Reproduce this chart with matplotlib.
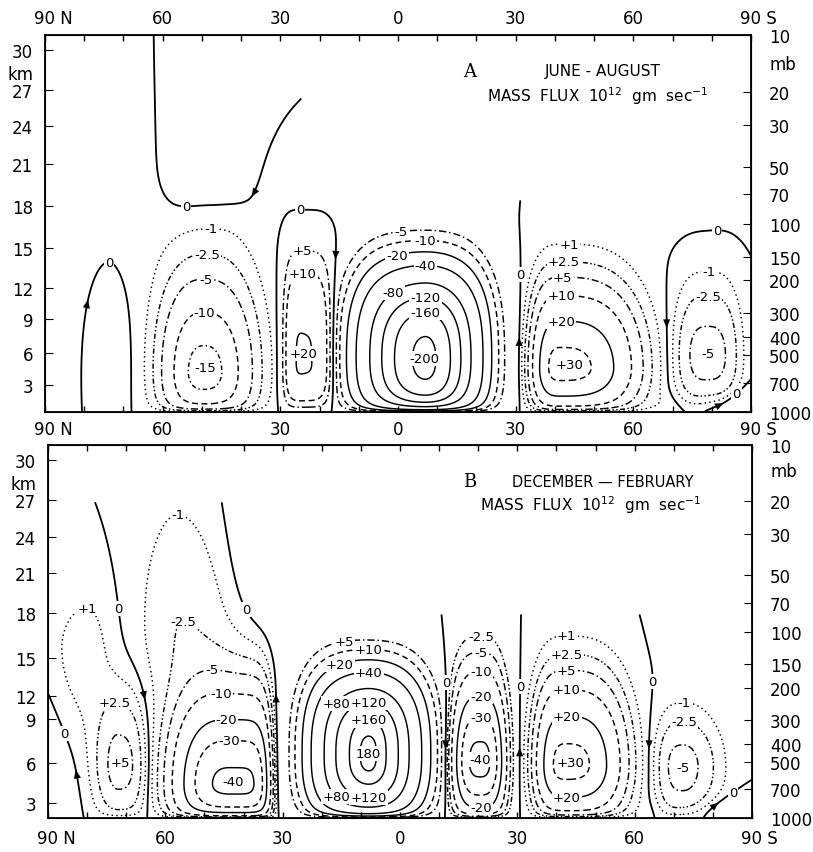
"""
Mean meridional mass flux cross-sections (JJA and DJF), redrawn from a scanned figure.
"""

import numpy as np
import matplotlib
import matplotlib.pyplot as plt
from matplotlib.ticker import FixedLocator, NullLocator

matplotlib.use('Agg')
plt.rcParams['font.family'] = 'DejaVu Sans'

# Axes
LAT_TICKS = [90, 60, 30, 0, -30, -60, -90]
LAT_LABELS = ["", "60", "30", "0", "30", "60", ""]
MB_TICKS = [10, 20, 30, 50, 70, 100, 150, 200, 300, 400, 500, 700, 1000]
KM_LABELS = [3, 6, 9, 12, 15, 18, 21, 24, 27, 30]
KM_P_JJA = [720, 488, 323, 219, 135, 81, 48.6, 30.5, 19.5, 12.0]
KM_P_DJF = [832, 509, 293, 221, 138, 80, 48.7, 31.0, 19.6, 12.0]

# Circulation cells.
# columns: lat, p (mb), peak (1e12 gm/s), r_north, r_south (deg),
#          r_up, r_down (decades of p), n_north, n_south, n_vertical
JJA_HADLEY = [-6, 500, -80, 16, 15, 0.42, 0.30, 3.5, 3.5, 2.5]
JJA_HADLEY_CORE = [-7, 600, -130, 12, 10, 0.45, 0.25, 2, 2, 3]
JJA_SUBTROP = [24, 535, 20.6, 5.0, 7.0, 0.52, 0.25, 4, 4, 3]
JJA_NH_FERREL = [49.5, 617, -16.5, 10, 11.5, 0.44, 0.30, 2.5, 2.5, 2]
JJA_NH_POLAR = [74.5, 500, 1.1, 5, 5, 0.5, 0.4, 2, 2, 2]
JJA_NH_POLE = [95, 600, -1.2, 10, 10, 0.6, 0.5, 2, 2, 2]
JJA_NH_ALOFT = [45, 120, -0.7, 20, 12, 0.22, 0.5, 2, 2, 2]
JJA_NH_STRAT = [48, 10, 2.0, 11.5, 16, 1.0, 0.85, 4, 2, 2]
JJA_POLE_STRAT = [85, 20, -2.0, 20, 15, 1.0, 0.8, 2, 2, 2]
JJA_TROP_ALOFT = [26, 60, -1.0, 10, 30, 0.35, 0.2, 2, 2, 2]
JJA_SH_FERREL = [-41.5, 583, 33, 6.8, 17, 0.35, 0.22, 3, 3, 2]
JJA_SH_POLAR = [-79, 500, -6.2, 7.7, 7.5, 0.33, 0.30, 3, 3, 2]
JJA_SH_ALOFT = [-65, 50, 0.5, 20, 30, 1.0, 0.3, 2, 2, 2]
JJA_SH_SURF = [-100, 1000, 5.7, 23, 23, 0.1, 0.3, 2, 2, 2]

JJA_CELLS = [("hadley", JJA_HADLEY), ("hadley", JJA_HADLEY_CORE),
             ("subtrop", JJA_SUBTROP),
             ("nhferrel", JJA_NH_FERREL), ("", JJA_NH_POLAR), ("", JJA_NH_POLE),
             ("", JJA_NH_ALOFT), ("", JJA_NH_STRAT), ("", JJA_POLE_STRAT),
             ("", JJA_TROP_ALOFT), ("shferrel", JJA_SH_FERREL),
             ("shpolar", JJA_SH_POLAR), ("", JJA_SH_ALOFT), ("", JJA_SH_SURF)]
JJA_LEVELS = {
    "hadley": [-5, -10, -20, -40, -80, -120, -160, -200],
    "subtrop": [5, 10, 20],
    "nhferrel": [-1, -2.5, -5, -10, -15],
    "shferrel": [1, 2.5, 5, 10, 20, 30],
    "shpolar": [-1, -2.5, -5],
}
JJA_BOTTOM_LABELS = {}
JJA_TOP_LAT = [-90, 19, 23, 27, 90]
JJA_TOP_P = [75, 75, 28, 10, 10]

DJF_HADLEY = [7.5, 454, 80, 15, 13, 0.39, 0.32, 3.5, 3, 2.5]
DJF_HADLEY_CORE = [8, 470, 105, 10, 9, 0.38, 0.30, 2, 2, 3]
DJF_TROUGH = [-20.5, 500, -43, 6.7, 6.0, 0.40, 0.30, 3, 3, 2]
DJF_NH_FERREL = [43, 660, -42, 13.5, 9.4, 0.40, 0.25, 3, 6, 2]
DJF_NH_FERREL_ALOFT = [56, 90, -2.4, 10, 14, 0.65, 0.45, 2, 2, 2]
DJF_NH_POLAR = [72, 520, 6.2, 5.5, 6.2, 0.34, 0.28, 2, 3, 2]
DJF_NH_POLAR_ALOFT = [80, 130, 1.6, 10, 6, 0.35, 0.45, 2, 2, 2]
DJF_NH_POLE = [97, 990, -5, 10, 9, 0.5, 0.3, 2, 2, 2]
DJF_HADLEY_ALOFT = [28, 35, 2.0, 16, 15, 0.6, 0.5, 2, 2, 2]
DJF_SH_FERREL = [-42.5, 520, 33, 7.2, 13, 0.37, 0.25, 3, 3, 2]
DJF_SH_POLAR = [-72.5, 530, -6.2, 6.5, 8, 0.25, 0.3, 3, 2, 2]
DJF_SH_ALOFT = [-80, 100, -0.5, 10, 20, 0.5, 0.3, 2, 2, 2]
DJF_SH_SURF = [-100, 1000, 4.0, 25, 25, 0.1, 0.3, 2, 2, 2]

DJF_CELLS = [("hadley", DJF_HADLEY), ("hadley", DJF_HADLEY_CORE),
             ("trough", DJF_TROUGH),
             ("nhferrel", DJF_NH_FERREL), ("nhferrel", DJF_NH_FERREL_ALOFT),
             ("nhpolar", DJF_NH_POLAR), ("nhpolar", DJF_NH_POLAR_ALOFT),
             ("", DJF_NH_POLE), ("", DJF_HADLEY_ALOFT),
             ("shferrel", DJF_SH_FERREL), ("shpolar", DJF_SH_POLAR),
             ("", DJF_SH_ALOFT), ("", DJF_SH_SURF)]
DJF_LEVELS = {
    "hadley": [5, 10, 20, 40, 80, 120, 160, 180],
    "trough": [-2.5, -5, -10, -20, -30, -40],
    "nhferrel": [-1, -2.5, -5, -10, -20, -30, -40],
    "nhpolar": [1, 2.5, 5],
    "shferrel": [1, 2.5, 5, 10, 20, 30],
    "shpolar": [-1, -2.5, -5],
}
DJF_BOTTOM_LABELS = {"hadley": [80, 120], "trough": [-20], "shferrel": [20]}
DJF_TOP_LAT = [-90, 20, 24, 30, 90]
DJF_TOP_P = [80, 80, 27, 20, 20]

UNSIGNED = {180}
SURFACE_DEPTH = 0.025
LABEL_SIZE = 9.5


def cell_field(lat, z, cell):
    """One circulation cell: a skewed super-gaussian in (lat, log p)."""
    lat0, p0, peak, rn, rs, rup, rdn, nn, ns, nz = cell
    dx = lat - lat0
    dz = z - np.log10(1000.0 / p0)
    ux = np.where(dx > 0, (np.abs(dx) / rn) ** nn, (np.abs(dx) / rs) ** ns)
    uz = np.where(dz > 0, (np.abs(dz) / rup) ** nz, (np.abs(dz) / rdn) ** nz)
    return peak * np.exp(-(ux + uz))


def line_style(v):
    a = abs(v)
    if a == 1:
        return (0, (1, 2.2))
    if a == 2.5:
        return (0, (1, 1.6, 1, 1.6, 3.5, 1.6))
    if a == 5:
        return (0, (5, 2, 1, 2))
    if a in (10, 30):
        return (0, (4, 2.5))
    if a == 15:
        return (0, (3, 2, 1, 2))
    return '-'


def fmt(v):
    if v in UNSIGNED:
        return f"{v:g}"
    return f"{v:+g}"


def box(ax, x, y, s):
    px, py = ax.transData.transform((x, y))
    w = 8.4 * len(s) + 3
    return (px - w / 2, py - 7.5, px + w / 2, py + 7.5)


def free(b, placed):
    return all(b[2] < q[0] or b[0] > q[2] or b[3] < q[1] or b[1] > q[3] for q in placed)


def put(ax, x, y, s, placed):
    ax.text(x, y, s, ha='center', va='center', fontsize=LABEL_SIZE, zorder=5,
            bbox=dict(boxstyle='square,pad=0.08', fc='white', ec='none'))
    placed.append(box(ax, x, y, s))


def put_along(ax, seg, order, s, placed):
    """Label at the first vertex (in the given order) that does not hit another label."""
    for i in order[:max(1, int(0.45 * len(order)))]:
        if free(box(ax, seg[i, 0], seg[i, 1], s), placed):
            put(ax, seg[i, 0], seg[i, 1], s, placed)
            return
    put(ax, seg[order[0], 0], seg[order[0], 1], s, placed)


def label_cells(ax, cs, bottom, placed):
    pairs = sorted(zip(cs.levels, cs.allsegs), key=lambda t: -abs(t[0]))
    for k, (v, segs) in enumerate(pairs):
        segs = [s for s in segs if len(s) > 4]
        if not segs:
            continue
        seg = max(segs, key=len)
        if k == 0:
            x = seg[:, 0].mean()
            y = np.exp(np.log(seg[:, 1]).mean())
            put(ax, x, y, fmt(v), placed)
        else:
            put_along(ax, seg, np.argsort(seg[:, 1]), fmt(v), placed)
        if v in bottom:
            put_along(ax, seg, np.argsort(-seg[:, 1]), fmt(v), placed)


def label_zero(ax, cs0, placed):
    for seg in cs0.allsegs[0]:
        if len(seg) < 20:
            continue
        h = -np.log10(seg[:, 1])
        n = len(seg)
        top_i, low_i = h.argmax(), h.argmin()
        if 0 < top_i < n - 1 and h[top_i] > max(h[0], h[-1]) + 0.1:
            i = top_i
        elif 0 < low_i < n - 1 and h[low_i] < min(h[0], h[-1]) - 0.1:
            i = low_i
        else:
            i = int(0.35 * (n - 1)) if h[0] > h[-1] else int(0.65 * (n - 1))
        put(ax, seg[i, 0], seg[i, 1], "0", placed)
        # small arrowhead further along the line
        j = int(0.66 * (n - 1)) if i < n / 2 else int(0.34 * (n - 1))
        j = min(max(j, 2), n - 3)
        ax.annotate('', xy=tuple(seg[j + 2]), xytext=tuple(seg[j - 2]),
                    arrowprops=dict(arrowstyle='-|>,head_length=0.6,head_width=0.25',
                                    color='k', lw=0.1, shrinkA=0, shrinkB=0,
                                    mutation_scale=10))


def draw_panel(ax, cells, levels, bottom_labels, top_lat, top_p):
    lat = np.linspace(-90, 90, 541)
    p = np.logspace(np.log10(998.0), 1.0, 320)
    LAT, P = np.meshgrid(lat, p)
    Z = np.log10(1000.0 / P)
    comps = np.array([cell_field(LAT, Z, c) for _, c in cells])
    total = comps.sum(axis=0) * (1.0 - np.exp(-Z / SURFACE_DEPTH))
    # each point belongs to the group whose cells dominate it
    groups = sorted({g for g, _ in cells})
    gsum = np.array([np.abs(sum(c for (g2, _), c in zip(cells, comps) if g2 == g))
                     for g in groups])
    owner = np.array(groups)[gsum.argmax(axis=0)]
    above = P < np.interp(LAT, top_lat, top_p)

    placed = []
    cs0 = ax.contour(LAT, P, np.ma.masked_where(above, total), levels=[0],
                     colors='k', linewidths=1.3)
    label_zero(ax, cs0, placed)
    for group, levs in levels.items():
        levs = sorted(levs)
        field = np.ma.masked_where(above | (owner != group), total)
        cs = ax.contour(LAT, P, field, levels=levs, colors='k', linewidths=1.05,
                        linestyles=[line_style(v) for v in levs])
        label_cells(ax, cs, bottom_labels.get(group, []), placed)


def setup_axes(ax, km_p, show_top, pad, km_y, mb_y):
    ax.set_xlim(90, -90)
    ax.set_yscale('log')
    ax.set_ylim(1000, 10)
    ax.set_xticks(LAT_TICKS, LAT_LABELS)
    ax.xaxis.set_minor_locator(FixedLocator(list(range(-80, 90, 10))))
    ax.tick_params(axis='x', which='both', direction='in', top=True, bottom=True,
                   labeltop=show_top, labelbottom=True, length=4, width=1,
                   labelsize=12, pad=pad)
    ax.set_yticks(km_p, [str(k) for k in KM_LABELS])
    ax.yaxis.set_minor_locator(NullLocator())
    ax.tick_params(axis='y', direction='in', length=6, labelsize=12, pad=8.5)
    for s in ax.spines.values():
        s.set_linewidth(1.3)

    right = ax.twinx()
    right.set_yscale('log')
    right.set_ylim(1000, 10)
    right.set_yticks(MB_TICKS, [str(m) for m in MB_TICKS])
    right.yaxis.set_minor_locator(NullLocator())
    right.tick_params(axis='y', direction='in', length=6, labelsize=12, pad=13)

    # 90 N / 90 S labels sit with the number centred on the tick
    rows = [(0, -pad, 'top')] + ([(1, pad, 'bottom')] if show_top else [])
    for yfrac, dy, va in rows:
        for lon, txt in ((90, "90 N"), (-90, "90 S")):
            ax.annotate(txt, xy=(lon, yfrac), xycoords=('data', 'axes fraction'),
                        xytext=(-7.6, dy), textcoords='offset points',
                        ha='left', va=va, fontsize=12)
    ax.annotate("km", xy=(0, km_y), xycoords='axes fraction', xytext=(-8.5, 0),
                textcoords='offset points', ha='right', va='center', fontsize=12)
    ax.annotate("mb", xy=(1, mb_y), xycoords='axes fraction', xytext=(13, 0),
                textcoords='offset points', ha='left', va='center', fontsize=12)


fig = plt.figure(figsize=(8.13, 8.53), dpi=100)
ax_a = fig.add_axes([45 / 813, 1 - 413 / 853, 706 / 813, 377 / 853])
ax_b = fig.add_axes([48 / 813, 1 - 819 / 853, 704 / 813, 373 / 853])

setup_axes(ax_a, KM_P_JJA, True, 5.5, 0.897, 0.923)
setup_axes(ax_b, KM_P_DJF, False, 8, 0.895, 0.93)
draw_panel(ax_a, JJA_CELLS, JJA_LEVELS, JJA_BOTTOM_LABELS, JJA_TOP_LAT, JJA_TOP_P)
draw_panel(ax_b, DJF_CELLS, DJF_LEVELS, DJF_BOTTOM_LABELS, DJF_TOP_LAT, DJF_TOP_P)

ax_a.text(0.602, 0.905, "A", transform=ax_a.transAxes, family='DejaVu Serif',
          fontsize=13, ha='center', va='center')
ax_a.text(0.708, 0.905, "JUNE - AUGUST", transform=ax_a.transAxes,
          fontsize=11, ha='left', va='center')
ax_a.text(0.626, 0.841, r"MASS  FLUX  10$^{12}$  gm  sec$^{-1}$",
          transform=ax_a.transAxes, fontsize=11, ha='left', va='center')
ax_b.text(0.599, 0.903, "B", transform=ax_b.transAxes, family='DejaVu Serif',
          fontsize=13, ha='center', va='center')
ax_b.text(0.659, 0.903, "DECEMBER \u2014 FEBRUARY", transform=ax_b.transAxes,
          fontsize=10.5, ha='left', va='center')
ax_b.text(0.614, 0.842, r"MASS  FLUX  10$^{12}$  gm  sec$^{-1}$",
          transform=ax_b.transAxes, fontsize=11, ha='left', va='center')

fig.savefig('out.png', dpi=100)
